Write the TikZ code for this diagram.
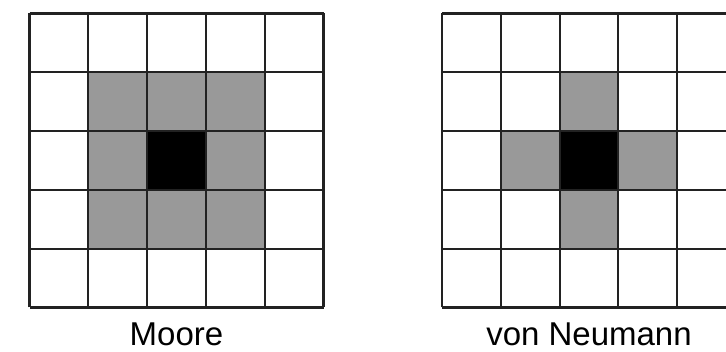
\documentclass[tikz,border=0pt]{standalone}
\usepackage{fontspec}
\setmainfont{Liberation Sans}
\usetikzlibrary{positioning}
\definecolor{nbgray} {RGB}{153,153,153}
\definecolor{nbline} {RGB}{34, 34, 34}
\tikzset{
  cellgrid/.style={draw=nbline,line width=2.1pt},
  nbcell/.style={fill=nbgray},
  selfcell/.style={fill=black},
  caption/.style={font=\fontsize{33}{38}\selectfont,anchor=base,inner sep=0pt},
}

\begin{document}
\begin{tikzpicture}[x=1pt,y=1pt]
  \useasboundingbox (0,0) rectangle (726,351);
  % Moore neighbourhood
  \begin{scope}[shift={(29.5,43.5)},x=58.8pt,y=58.8pt]
    \foreach \i in {1,2,3}
      \foreach \j in {1,2,3}
        \fill[nbcell] (\i,\j) rectangle ++(1,1);
    \fill[selfcell] (2,2) rectangle ++(1,1);
    \draw[cellgrid,step=58.8pt] (0,0) grid (5,5);
    \coordinate (MOORE) at (2.5,0);
  \end{scope}
  % von Neumann neighbourhood
  \begin{scope}[shift={(442,43.5)},x=58.8pt,y=58.8pt]
    \foreach \i/\j in {2/1,2/3,1/2,3/2}
      \fill[nbcell] (\i,\j) rectangle ++(1,1);
    \fill[selfcell] (2,2) rectangle ++(1,1);
    \draw[cellgrid,step=58.8pt] (0,0) grid (5,5);
    \coordinate (NEUMANN) at (2.5,0);
  \end{scope}
  % Captions
  \node[caption] (moorelbl)    at ([yshift=-38pt]MOORE)   {Moore};
  \node[caption] (neumannlbl)  at ([yshift=-38pt]NEUMANN) {von Neumann};
\end{tikzpicture}
\end{document}
